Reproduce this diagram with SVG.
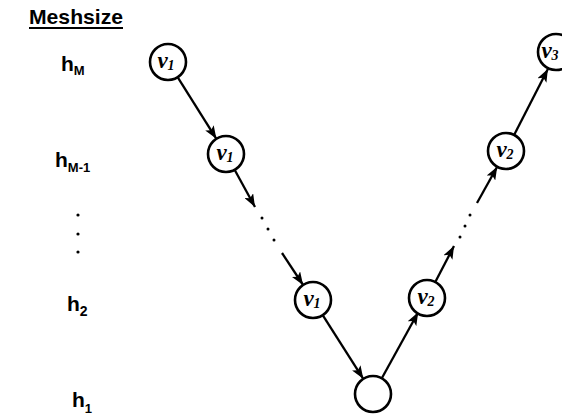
<svg xmlns="http://www.w3.org/2000/svg" width="562" height="416" viewBox="0 0 562 416">
<style>
.lab{font-family:"Liberation Sans",Arial,sans-serif;font-weight:bold;fill:#000}
.node circle{fill:#fff;stroke:#000;stroke-width:2.6}
.node text{font-family:"Liberation Serif","Times New Roman",serif;font-style:italic;font-weight:bold;font-size:23px;fill:#000;text-anchor:middle}
.edge{stroke:#000;stroke-width:2.3;fill:none}
.arr{marker-end:url(#ah)}
.dot{fill:#000}
</style>
<defs>
<marker id="ah" markerUnits="userSpaceOnUse" markerWidth="14" markerHeight="10" refX="13" refY="5" orient="auto">
<path d="M0,0 L13,5 L0,10 L3,5 z" fill="#000"/>
</marker>
</defs>
<rect width="562" height="416" fill="#fff"/>
<g id="axis-labels">
<text class="lab" x="29" y="24" font-size="21" textLength="94" lengthAdjust="spacingAndGlyphs">Meshsize</text>
<line x1="29" y1="28" x2="123" y2="28" stroke="#000" stroke-width="2"/>
<text class="lab" x="61" y="71" font-size="21">h<tspan font-size="13" dy="4">M</tspan></text>
<text class="lab" x="55" y="167" font-size="21">h<tspan font-size="13" dy="5">M-1</tspan></text>
<circle class="dot" cx="78" cy="215" r="1.6"/>
<circle class="dot" cx="78" cy="234" r="1.6"/>
<circle class="dot" cx="78" cy="252" r="1.6"/>
<text class="lab" x="67" y="311" font-size="21">h<tspan font-size="14" dy="5">2</tspan></text>
<text class="lab" x="72" y="407" font-size="21">h<tspan font-size="13" dy="6">1</tspan></text>
</g>
<g id="connectors">
<line class="edge arr" x1="177.6" y1="77.2" x2="216.4" y2="138.8"/>
<line class="edge arr" x1="234.6" y1="169.8" x2="255" y2="207"/>
<circle class="dot" cx="262" cy="218" r="1.5"/>
<circle class="dot" cx="268" cy="229" r="1.5"/>
<circle class="dot" cx="274" cy="240" r="1.5"/>
<line class="edge arr" x1="282" y1="253" x2="303.1" y2="285"/>
<line class="edge arr" x1="322.7" y1="315.2" x2="363.3" y2="378.8"/>
<line class="edge arr" x1="381.8" y1="378.3" x2="418.2" y2="312.3"/>
<line class="edge arr" x1="435.3" y1="282" x2="454" y2="246"/>
<circle class="dot" cx="460" cy="237" r="1.5"/>
<circle class="dot" cx="465" cy="226" r="1.5"/>
<circle class="dot" cx="470" cy="215" r="1.5"/>
<line class="edge arr" x1="477" y1="203" x2="497.2" y2="166.7"/>
<line class="edge arr" x1="514.1" y1="134.9" x2="547.9" y2="68.9"/>
</g>
<g id="nA" class="node"><circle cx="168" cy="62" r="18"/><text x="166" y="68">ν<tspan font-size="14" dy="2">1</tspan></text></g>
<g id="nB" class="node"><circle cx="226" cy="154" r="18"/><text x="225" y="160">ν<tspan font-size="14" dy="2">1</tspan></text></g>
<g id="nC" class="node"><circle cx="313" cy="300" r="18"/><text x="312" y="306">ν<tspan font-size="14" dy="2">1</tspan></text></g>
<g id="nD" class="node"><circle cx="373" cy="394" r="18"/></g>
<g id="nE" class="node"><circle cx="427" cy="298" r="18"/><text x="426" y="304">ν<tspan font-size="14" dy="2">2</tspan></text></g>
<g id="nF" class="node"><circle cx="506" cy="151" r="18"/><text x="505" y="157">ν<tspan font-size="14" dy="2">2</tspan></text></g>
<g id="nG" class="node"><circle cx="556" cy="52" r="18"/><text x="550" y="58">ν<tspan font-size="14" dy="2">3</tspan></text></g>
</svg>
